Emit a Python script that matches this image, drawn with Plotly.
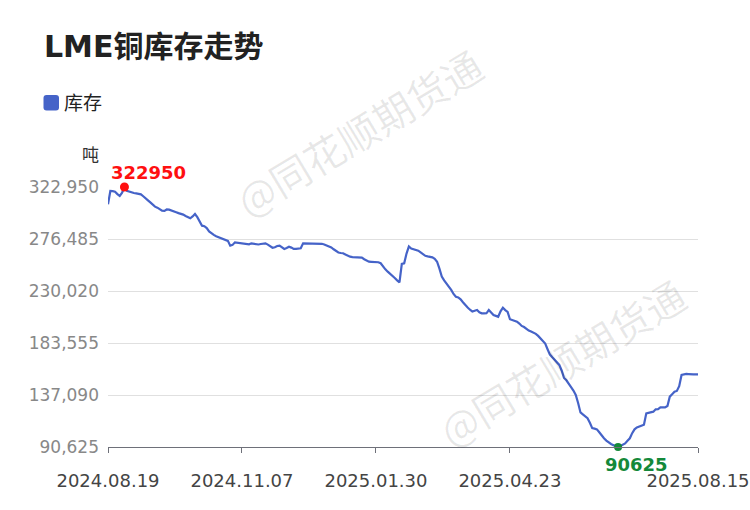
import pandas as pd
import plotly.graph_objects as go

# ---- data ----
start_date = "2024-08-19"
end_date = "2025-08-15"
lme_holidays = ["2024-08-26", "2024-12-25", "2024-12-26", "2025-01-01",
                "2025-04-18", "2025-04-21", "2025-05-05", "2025-05-26"]

stock = [
    307500, 319400, 319200, 318700, 316600, 315000, 317800, 322950, 319600, 318900,
    317900, 317600, 317300, 316900, 316400, 314700, 313200, 311000, 309200, 307400,
    305400, 304500, 303300, 301800, 301600, 302900, 302700, 301700, 301300, 300400,
    299600, 299200, 298300, 297100, 296400, 295000, 296600, 298800, 296000, 291500,
    288400, 287900, 286200, 283300, 281400, 280200, 279000, 278200, 277100, 276200,
    275100, 274800, 270500, 271200, 273500, 273100, 272700, 272500, 272300, 271900,
    271700, 272600, 272300, 271800, 271600, 272000, 272300, 272600, 271500, 269800,
    268700, 269100, 270200, 270500, 269300, 267600, 268400, 269600, 268800, 267600,
    267700, 267900, 268200, 272600, 272600, 272500, 272500, 272400, 272400, 272500,
    272700, 272200, 271600, 270900, 270200, 268900, 267300, 265900, 264400, 264000,
    263800, 262600, 261400, 260700, 260300, 260200, 260100, 260200, 259900, 258400,
    257000, 256200, 256100, 256000, 255700, 255700, 254800, 251900, 249400, 247300,
    245600, 243700, 241600, 239500, 237800, 254200, 254800, 263500, 269800, 268000,
    267300, 266700, 266000, 264500, 262900, 261500, 261000, 260600, 260100, 258800,
    256200, 250000, 243000, 239600, 236900, 234100, 231000, 227400, 224900, 224300,
    222600, 220000, 217300, 215200, 213300, 211600, 212400, 213000, 211000, 210100,
    210000, 210100, 213000, 210300, 208600, 207800, 207000, 211800, 215100, 213000,
    211400, 204800, 204100, 203600, 202600, 200900, 198800, 197800, 196000, 194700,
    193800, 192900, 191700, 189900, 187900, 185800, 183100, 178000, 173200, 170800,
    168300, 166100, 164000, 159000, 152300, 150200, 147700, 144200, 141100, 137200,
    130000, 121500, 119800, 118100, 116300, 112200, 107500, 107000, 106400, 103800,
    100900, 98400, 96300, 94600, 93300, 92300, 91300, 90625, 91600, 92400,
    93800, 96200, 98400, 103000, 106400, 108100, 109000, 110000, 110600, 120700,
    121400, 121500, 122200, 124300, 124500, 126100, 126200, 126000, 127300, 135600,
    137800, 140000, 140700, 145000, 155000, 155800, 155900, 155800, 155400, 155500,
    155600, 155600,
]

x_tick_labels = ["2024.08.19", "2024.11.07", "2025.01.30", "2025.04.23", "2025.08.15"]
y_tick_values = [90625, 137090, 183555, 230020, 276485, 322950]
y_tick_labels = ["90,625", "137,090", "183,555", "230,020", "276,485", "322,950"]

series_name = "库存"
unit_label = "吨"
title_text = "LME铜库存走势"
watermark_text = "@同花顺期货通"

# ---- build ----
days = pd.bdate_range(start_date, end_date)
days = [d for d in days if d.strftime("%Y-%m-%d") not in lme_holidays]
dates = [d.strftime("%Y.%m.%d") for d in days]
n = min(len(dates), len(stock))
dates = dates[:n]
stock = stock[:n]

i_max = max(range(n), key=lambda i: stock[i])
i_min = min(range(n), key=lambda i: stock[i])

W, H = 750, 510
ML, MT = 108, 187
PW, PH = 590, 260
MR, MB = W - ML - PW, H - MT - PH


def px(x):
    return (x - ML) / PW


def py(y):
    return (MT + PH - y) / PH


LINE = "#4563c8"
FONT = "DejaVu Sans, Noto Sans CJK SC, sans-serif"

fig = go.Figure()
fig.add_trace(go.Scatter(
    x=dates, y=stock, mode="lines", name=series_name,
    line=dict(color=LINE, width=2.2), cliponaxis=False, showlegend=False,
))
fig.add_trace(go.Scatter(
    x=[dates[i_max]], y=[stock[i_max]], mode="markers",
    marker=dict(color="#ff1010", size=9), cliponaxis=False, showlegend=False,
))
fig.add_trace(go.Scatter(
    x=[dates[i_min]], y=[stock[i_min]], mode="markers",
    marker=dict(color="#14893a", size=8), cliponaxis=False, showlegend=False,
))

annotations = [
    dict(x=dates[i_max], y=stock[i_max], text=f"<b>{stock[i_max]}</b>", showarrow=False,
         xshift=24, yshift=15, font=dict(family=FONT, size=18, color="#ff1010")),
    dict(x=dates[i_min], y=stock[i_min], text=f"<b>{stock[i_min]}</b>", showarrow=False,
         xshift=18, yshift=-17, font=dict(family=FONT, size=18, color="#14893a")),
    dict(xref="paper", yref="paper", x=px(101), y=py(155), xanchor="right", yanchor="middle",
         text=unit_label, showarrow=False, font=dict(family=FONT, size=17, color="#333")),
    dict(xref="paper", yref="paper", x=px(42), y=py(47), xanchor="left", yanchor="middle",
         text=f"<b>{title_text}</b>", showarrow=False,
         font=dict(family=FONT, size=30, color="#222")),
    dict(xref="paper", yref="paper", x=px(62), y=py(103), xanchor="left", yanchor="middle",
         text=series_name, showarrow=False, font=dict(family=FONT, size=19, color="#222")),
    dict(xref="paper", yref="paper", x=px(359), y=py(132), xanchor="center", yanchor="middle",
         text=watermark_text, showarrow=False, textangle=-31,
         font=dict(family="Noto Sans CJK SC", size=40, color="rgba(0,0,0,0.09)")),
    dict(xref="paper", yref="paper", x=px(562), y=py(362), xanchor="center", yanchor="middle",
         text=watermark_text, showarrow=False, textangle=-31,
         font=dict(family="Noto Sans CJK SC", size=40, color="rgba(0,0,0,0.09)")),
]
fig.update_layout(annotations=annotations)

# legend swatch (rounded square)
x0, x1, y0, y1, r = 43.5, 59.0, 95.0, 110.5, 3.0
path = (
    f"M {px(x0 + r)} {py(y0)} L {px(x1 - r)} {py(y0)} "
    f"Q {px(x1)} {py(y0)} {px(x1)} {py(y0 + r)} "
    f"L {px(x1)} {py(y1 - r)} Q {px(x1)} {py(y1)} {px(x1 - r)} {py(y1)} "
    f"L {px(x0 + r)} {py(y1)} Q {px(x0)} {py(y1)} {px(x0)} {py(y1 - r)} "
    f"L {px(x0)} {py(y0 + r)} Q {px(x0)} {py(y0)} {px(x0 + r)} {py(y0)} Z"
)
fig.add_shape(type="path", xref="paper", yref="paper", path=path,
              fillcolor=LINE, line=dict(width=0), layer="above")

fig.update_layout(
    width=W, height=H,
    margin=dict(l=ML, r=MR, t=MT, b=MB),
    paper_bgcolor="white", plot_bgcolor="white",
    font=dict(family=FONT),
    xaxis=dict(
        type="category", range=[0, n - 1], automargin=False,
        tickmode="array", tickvals=x_tick_labels, ticktext=x_tick_labels,
        showgrid=False, showline=True, linecolor="#6e7079", linewidth=1,
        ticks="outside", ticklen=5, tickcolor="#6e7079",
        tickfont=dict(family=FONT, size=18, color="#444"),
        ticklabelstandoff=12, zeroline=False,
    ),
    yaxis=dict(
        range=[y_tick_values[0], y_tick_values[-1]], automargin=False,
        tickmode="array", tickvals=y_tick_values, ticktext=y_tick_labels,
        showgrid=True, gridcolor="#e0e0e0", gridwidth=1,
        showline=False, zeroline=False, ticks="",
        tickfont=dict(family=FONT, size=17, color="#888"),
        ticklabelstandoff=8,
    ),
    hovermode=False,
)
fig.write_html(
    "out.html",
    config={"displayModeBar": False, "staticPlot": True},
    post_script="document.body.style.margin='0';document.body.style.overflow='hidden';",
)
